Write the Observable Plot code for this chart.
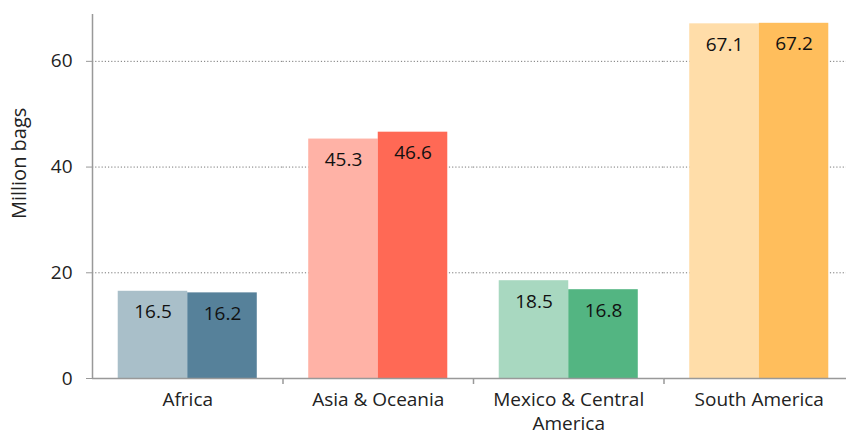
<!DOCTYPE html>
<html><head><meta charset="utf-8">
<script src="https://cdn.jsdelivr.net/npm/d3@7"></script>
<script src="https://cdn.jsdelivr.net/npm/@observablehq/plot@0.6"></script>
<style>body{margin:0;background:#fff} #chart{width:846px;height:436px}</style>
</head><body><div id="chart"></div>
<script>
const regions = ["Africa", "Asia & Oceania", "Mexico & Central America", "South America"];
const tickLabels = ["Africa", "Asia & Oceania", "Mexico & Central\nAmerica", "South America"];
const previous = [16.5, 45.3, 18.5, 67.1];
const current = [16.2, 46.6, 16.8, 67.2];
const lightColors = ["#A9BFC9", "#FFB2A6", "#A8D8C0", "#FFDDA9"];
const darkColors = ["#56819A", "#FF6955", "#53B582", "#FFBE5C"];
const yTicks = [0, 20, 40, 60];
const yLabel = "Million bags";

const rows = regions.flatMap((r, i) => [
  {region: r, series: "prev", value: previous[i], color: lightColors[i]},
  {region: r, series: "curr", value: current[i], color: darkColors[i]}
]);
const boundaries = regions.map((r, i) => ({region: r, top: i === 0 ? 70 : 0}));

const W = 846, H = 436, mL = 92, mR = -8, mT = 8, mB = 58;
const padOuter = 0.37;
const step = (W - mL - mR) / regions.length;
const bw = step / (2 + 2 * padOuter);
const edgeDx = -(step * padOuter / (2 + 2 * padOuter) + bw / 2);

const chart = Plot.plot({
  width: W, height: H,
  marginLeft: mL, marginRight: mR, marginTop: mT, marginBottom: mB,
  style: {fontFamily: "'Open Sans', sans-serif", fontSize: "19px", color: "#222", background: "#fff"},
  fx: {domain: regions, padding: 0, round: false},
  x: {domain: ["prev", "curr"], paddingInner: 0, paddingOuter: padOuter, round: false, axis: null},
  y: {domain: [0, 70]},
  marks: [
    Plot.gridY(yTicks.filter(t => t > 0), {stroke: "#777", strokeOpacity: 1, strokeDasharray: "1.2,2"}),
    Plot.barY(rows, {fx: "region", x: "series", y: "value", fill: "color"}),
    Plot.text(rows, {fx: "region", x: "series", y: "value", text: d => d.value.toFixed(1), dy: 21, fill: "#111", fontSize: 19}),
    Plot.ruleY([0], {stroke: "#999", strokeWidth: 1.5}),
    Plot.ruleX(boundaries, {fx: "region", x: () => "prev", y1: 0, y2: "top", dx: edgeDx, insetBottom: -6, stroke: "#999", strokeWidth: 1.5}),
    Plot.axisY({ticks: yTicks, tickSize: 6, tickPadding: 14, stroke: "#999", fill: "#222", fontSize: 19, label: null}),
    Plot.axisFx({anchor: "bottom", tickSize: 0, tickPadding: 11, fontSize: 19, fill: "#222", label: null, lineHeight: 1.25,
      tickFormat: d => tickLabels[regions.indexOf(d)]}),
    Plot.text([{region: regions[0], pos: 40.7}], {fx: "region", frameAnchor: "left", y: "pos", text: () => yLabel, rotate: -90, textAnchor: "middle", dx: -73, fill: "#222", fontSize: 20})
  ]
});
document.getElementById("chart").appendChild(chart);
</script>
</body></html>
